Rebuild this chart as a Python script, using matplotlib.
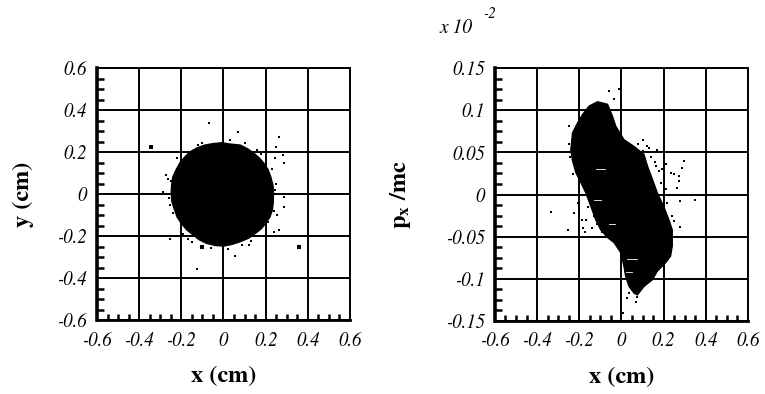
import matplotlib.pyplot as plt
from matplotlib.ticker import MultipleLocator

# STIX ships with matplotlib and has real italic / bold Times-like faces
plt.rcParams['font.family'] = ['STIXGeneral', 'DejaVu Serif']
plt.rcParams['mathtext.fontset'] = 'stix'

# --- left panel: transverse beam spot, x-y (cm) ---
# outline of the dense core
xy_core_x = [-0.008, 0.03, 0.08, 0.115, 0.144, 0.17, 0.192, 0.212, 0.224, 0.235,
             0.237, 0.236, 0.232, 0.22, 0.2, 0.18, 0.152, 0.12, 0.08, 0.04, 0.0, -0.04,
             -0.08, -0.115, -0.144, -0.175, -0.2, -0.22, -0.232, -0.245, -0.248, -0.246,
             -0.24, -0.225, -0.208, -0.185, -0.16, -0.125, -0.088, -0.05]
xy_core_y = [0.244, 0.238, 0.233, 0.215, 0.194, 0.172, 0.146, 0.115, 0.082, 0.04,
             0.003, -0.04, -0.076, -0.11, -0.14, -0.165, -0.187, -0.21, -0.227, -0.24,
             -0.248, -0.245, -0.235, -0.218, -0.195, -0.17, -0.14, -0.11, -0.076, -0.035,
             0.003, 0.045, 0.082, 0.115, 0.146, 0.175, 0.2, 0.22, 0.233, 0.24]
# stray particles outside / on the fringe of the core
xy_out_x = [-0.344, -0.069, 0.069, 0.264, 0.248, 0.28, 0.285, -0.272, -0.288, 0.288, 0.288,
            0.357, -0.256, -0.149, -0.104, -0.128, 0.056, 0.24, 0.264, 0.12, 0.215, 0.245,
            -0.265, -0.22, 0.03, 0.17, -0.19, 0.25, 0.255, -0.255,
            -0.12, -0.1, 0.1, 0.16, 0.2, 0.23, 0.245, 0.24, -0.25, -0.26, -0.24, -0.23,
            -0.17, -0.06, 0.02, 0.09, 0.13, -0.2, 0.21, 0.18]
xy_out_y = [0.225, 0.34, 0.297, 0.273, 0.225, 0.186, 0.149, 0.09, 0.011, -0.013, -0.06,
            -0.251, -0.216, -0.227, -0.251, -0.357, -0.295, -0.18, -0.171, -0.243, 0.2,
            0.17, 0.07, 0.17, 0.255, -0.2, -0.19, 0.05, -0.1, -0.05,
            0.235, 0.245, 0.245, 0.21, 0.17, 0.12, 0.02, -0.08, 0.06, -0.02, -0.09, 0.1,
            -0.215, -0.255, -0.26, -0.245, -0.225, 0.16, -0.135, 0.19]
xy_out_big = [(-0.344, 0.225), (0.357, -0.251), (-0.104, -0.251)]

# --- right panel: phase space, x (cm) vs px/mc (x 10^-2) ---
xp_core_x = [-0.113, -0.066, -0.043, -0.027, 0.012, 0.06, 0.107, 0.123, 0.147, 0.17, 0.2,
             0.225, 0.241, 0.241, 0.233, 0.209, 0.17, 0.147, 0.107, 0.076, 0.06, 0.036,
             0.02, 0.012, -0.003, -0.035, -0.066, -0.098, -0.122, -0.145, -0.169, -0.192,
             -0.216, -0.232, -0.24, -0.232, -0.208, -0.184, -0.153]
xp_core_y = [0.11, 0.107, 0.093, 0.081, 0.065, 0.057, 0.0475, 0.034, 0.018, 0.002, -0.014,
             -0.03, -0.042, -0.061, -0.073, -0.081, -0.091, -0.101, -0.109, -0.119, -0.117,
             -0.109, -0.097, -0.085, -0.069, -0.057, -0.051, -0.042, -0.03, -0.014, 0.002,
             0.014, 0.026, 0.04, 0.053, 0.073, 0.085, 0.095, 0.105]
xp_out_x = [-0.334, -0.255, -0.248, -0.232, -0.2, -0.224, -0.184, -0.169, -0.13, -0.098,
            -0.153, -0.059, -0.011, -0.035, 0.17, 0.162, 0.209, 0.233, 0.249, 0.272, 0.296,
            0.288, 0.272, 0.265, 0.28, 0.351, 0.201, 0.186, 0.28, 0.249, 0.068, 0.036,
            0.028, 0.005, 0.076, -0.205, -0.185, -0.115, -0.07, 0.13, 0.145, 0.19, 0.215,
            -0.2, -0.19, -0.16, -0.14, -0.11, -0.09, -0.2, -0.175, -0.13, 0.08, 0.1, 0.12,
            0.1, 0.14, 0.16, 0.18, 0.21, 0.24, -0.245, -0.25]
xp_out_y = [-0.021, -0.042, 0.081, 0.024, 0.006, -0.022, -0.04, -0.03, -0.026, -0.038,
            -0.006, 0.123, 0.125, 0.113, 0.053, 0.034, 0.036, 0.026, 0.024, 0.022, 0.04,
            0.032, 0.016, 0.008, -0.008, -0.006, 0.018, 0.014, -0.038, -0.032, -0.127,
            -0.117, -0.123, -0.14, -0.121, -0.01, -0.03, -0.035, -0.05, 0.055, 0.05,
            0.03, -0.01, -0.02, 0.0, -0.015, -0.04, -0.02, -0.045, -0.035, -0.045, -0.01,
            0.06, 0.065, 0.058, 0.052, 0.044, 0.038, 0.028, 0.006, -0.025, 0.045, 0.06]
# thin white gaps seen inside the cloud
xp_gap_x = [[0.028, 0.076], [-0.13, -0.098], [0.02, 0.05], [-0.12, -0.08], [-0.06, -0.03]]
xp_gap_y = [[-0.077, -0.077], [-0.006, -0.006], [-0.092, -0.092], [0.03, 0.03],
            [-0.035, -0.035]]

fig = plt.figure(figsize=(7.65, 3.94), dpi=100)
ax1 = fig.add_axes([0.1268, 0.1878, 0.3307, 0.6396])
ax2 = fig.add_axes([0.647, 0.1853, 0.3307, 0.642])


def fmt_num(v):
    v = round(v, 3)
    return '0' if v == 0 else '%g' % v


def style(ax, ylim, ymajor, yminor):
    ax.set_xlim(-0.6, 0.6)
    ax.set_ylim(*ylim)
    ax.xaxis.set_major_locator(MultipleLocator(0.2))
    ax.xaxis.set_minor_locator(MultipleLocator(0.05))
    ax.yaxis.set_major_locator(MultipleLocator(ymajor))
    ax.yaxis.set_minor_locator(MultipleLocator(yminor))
    ax.grid(True, which='major', color='black', linewidth=1.4)
    ax.set_axisbelow(False)
    ax.tick_params(which='major', length=0, labelsize=13.5)
    ax.tick_params(axis='y', which='major', pad=7)
    ax.tick_params(axis='x', which='major', pad=8)
    ax.tick_params(which='minor', direction='in', length=5, width=1.8, color='black')
    ax.tick_params(axis='x', which='minor', length=4)
    ax.tick_params(top=False, right=False, which='both')
    xt = [t for t in ax.get_xticks() if -0.601 < t < 0.601]
    yt = [t for t in ax.get_yticks() if ylim[0] - 1e-6 < t < ylim[1] + 1e-6]
    ax.set_xticks(xt)
    ax.set_xticklabels([fmt_num(v) for v in xt], fontstyle='italic')
    ax.set_yticks(yt)
    ax.set_yticklabels([fmt_num(v) for v in yt], fontstyle='italic')
    ax.set_xlim(-0.6, 0.6)
    ax.set_ylim(*ylim)
    ax.spines['left'].set_linewidth(2.6)
    ax.spines['bottom'].set_linewidth(2.0)
    ax.spines['top'].set_linewidth(1.4)
    ax.spines['right'].set_linewidth(1.4)
    ax.set_xlabel('x (cm)', fontsize=17.5, fontweight='bold', labelpad=12)


# left panel
ax1.fill(xy_core_x, xy_core_y, color='black', lw=1.0, zorder=3)
ax1.scatter(xy_out_x, xy_out_y, s=4, marker='s', color='black', lw=0, zorder=3)
ax1.scatter([p[0] for p in xy_out_big], [p[1] for p in xy_out_big], s=10, marker='s',
            color='black', lw=0, zorder=3)
style(ax1, (-0.6, 0.6), 0.2, 0.05)
ax1.set_ylabel('y (cm)', fontsize=17.5, fontweight='bold', labelpad=17)

# right panel
ax2.fill(xp_core_x, xp_core_y, color='black', lw=1.0, zorder=3)
ax2.scatter(xp_out_x, xp_out_y, s=4, marker='s', color='black', lw=0, zorder=3)
for gx, gy in zip(xp_gap_x, xp_gap_y):
    ax2.plot(gx, gy, color='white', lw=0.6, zorder=4)
style(ax2, (-0.15, 0.15), 0.05, 0.0125)
ax2.set_ylabel(r'$\mathbf{p}_{\mathbf{x}}$ /mc', fontsize=17.5, fontweight='bold', labelpad=24)
fig.text(0.575, 0.93, 'x 10', fontsize=14, fontstyle='italic', ha='left', va='center')
fig.text(0.632, 0.965, '-2', fontsize=11, fontstyle='italic', ha='left', va='center')

fig.savefig('out.png', dpi=100)
